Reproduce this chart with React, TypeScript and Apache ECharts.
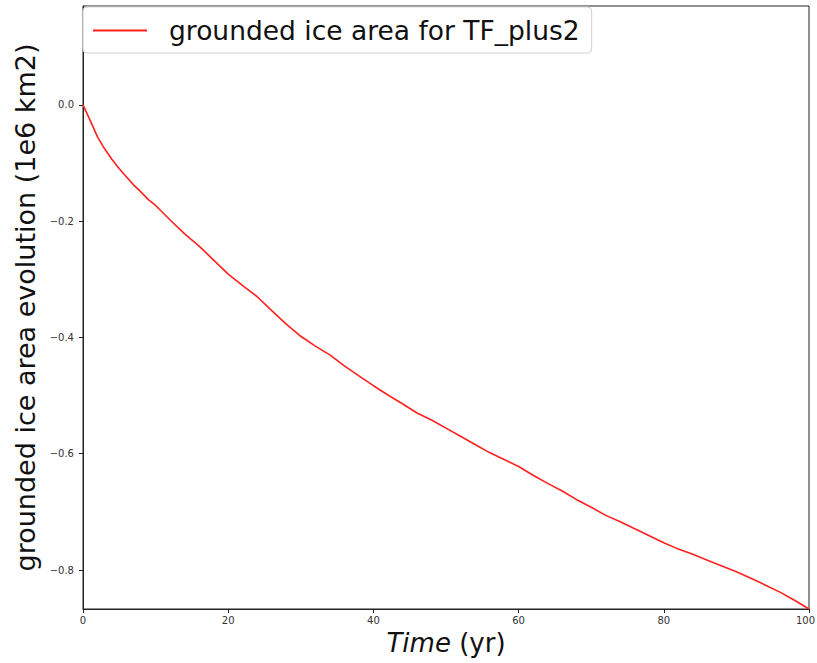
import React, { useEffect, useRef } from "react";
import * as echarts from "echarts";

const years = [0, 1, 2, 3, 4, 5, 6, 7, 8, 9, 10, 12, 14, 16, 18, 20, 22, 24, 26, 28, 30, 32, 34, 36, 38, 40, 42, 44, 46, 48, 50, 52, 54, 56, 58, 60, 62, 64, 66, 68, 70, 72, 74, 76, 78, 80, 82, 84, 86, 88, 90, 92, 94, 96, 98, 100];
const areaEvolution = [0, -0.027, -0.055, -0.076, -0.094, -0.11, -0.124, -0.138, -0.15, -0.163, -0.173, -0.198, -0.222, -0.243, -0.267, -0.291, -0.311, -0.33, -0.354, -0.377, -0.398, -0.415, -0.43, -0.449, -0.466, -0.483, -0.499, -0.514, -0.53, -0.542, -0.556, -0.57, -0.584, -0.598, -0.61, -0.622, -0.637, -0.651, -0.664, -0.679, -0.692, -0.706, -0.717, -0.729, -0.741, -0.753, -0.764, -0.773, -0.783, -0.793, -0.803, -0.814, -0.826, -0.838, -0.852, -0.867];
const yTicks = [0, -0.2, -0.4, -0.6, -0.8];
const xTicks = [0, 20, 40, 60, 80, 100];
const seriesName = "grounded ice area for TF_plus2";

const FONT = "DejaVu Sans";

export default function App() {
  const ref = useRef<HTMLDivElement>(null);
  useEffect(() => {
    if (!ref.current) return;
    const chart = echarts.init(ref.current, undefined, { renderer: "svg" });
    const data = years.map((y, i) => [y, areaEvolution[i]]);
    const lastX = xTicks[xTicks.length - 1];
    chart.setOption({
      animation: false,
      backgroundColor: "#ffffff",
      textStyle: { fontFamily: FONT },
      grid: {
        left: 83,
        right: 8,
        top: 6,
        bottom: 54,
        show: true,
        borderColor: "#222",
        borderWidth: 1,
        containLabel: false,
        outerBoundsMode: "none",
      },
      legend: {
        left: 83,
        top: 7,
        icon: "rect",
        itemWidth: 54,
        itemHeight: 2,
        padding: [10, 12, 9, 10],
        backgroundColor: "#ffffff",
        borderColor: "#d0d0d0",
        borderWidth: 1,
        borderRadius: 4,
        textStyle: {
          fontFamily: FONT,
          fontSize: 26.5,
          color: "#111",
          padding: [0, 0, 0, 17],
        },
        data: [{ name: seriesName, itemStyle: { color: "#ff2020" } }],
      },
      xAxis: {
        type: "value",
        min: 0,
        max: 100,
        interval: 20,
        name: "{i|Time} {n|(yr)}",
        nameLocation: "middle",
        nameGap: 20,
        nameTextStyle: {
          fontFamily: FONT,
          fontSize: 26,
          color: "#111",
          rich: {
            i: { fontFamily: FONT, fontSize: 26, fontStyle: "italic", color: "#111" },
            n: { fontFamily: FONT, fontSize: 26, color: "#111" },
          },
        },
        axisLine: { show: true, onZero: false, lineStyle: { color: "#222", width: 1 } },
        axisTick: { show: true, length: 4, inside: false, lineStyle: { color: "#222" } },
        axisLabel: {
          fontFamily: FONT,
          fontSize: 10,
          color: "#333",
          margin: 6,
          customValues: xTicks,
          formatter: (v: number) => (v === lastX ? "{e|" + v + "}" : String(v)),
          rich: {
            e: { fontFamily: FONT, fontSize: 10, color: "#333", padding: [0, 7, 0, 0] },
          },
        },
        splitLine: { show: false },
      },
      yAxis: {
        type: "value",
        min: -0.867,
        max: 0.17,
        name: "grounded ice area evolution (1e6 km2)",
        nameLocation: "middle",
        nameGap: 35,
        nameTextStyle: { fontFamily: FONT, fontSize: 27, color: "#111" },
        axisLine: { show: true, onZero: false, lineStyle: { color: "#222", width: 1 } },
        axisTick: { show: true, length: 4, inside: false, customValues: yTicks, lineStyle: { color: "#222" } },
        axisLabel: {
          fontFamily: FONT,
          fontSize: 10,
          color: "#333",
          margin: 9,
          customValues: yTicks,
          formatter: (v: number) => v.toFixed(1).replace("-", "\u2212"),
        },
        splitLine: { show: false },
      },
      series: [
        {
          name: seriesName,
          type: "line",
          data,
          symbol: "none",
          smooth: false,
          lineStyle: { color: "#ff2020", width: 1.6 },
          itemStyle: { color: "#ff2020" },
        },
      ],
    });
    return () => chart.dispose();
  }, []);
  return (
    <div
      ref={ref}
      style={{ position: "fixed", left: 0, top: 0, width: "100vw", height: "100vh" }}
    />
  );
}
